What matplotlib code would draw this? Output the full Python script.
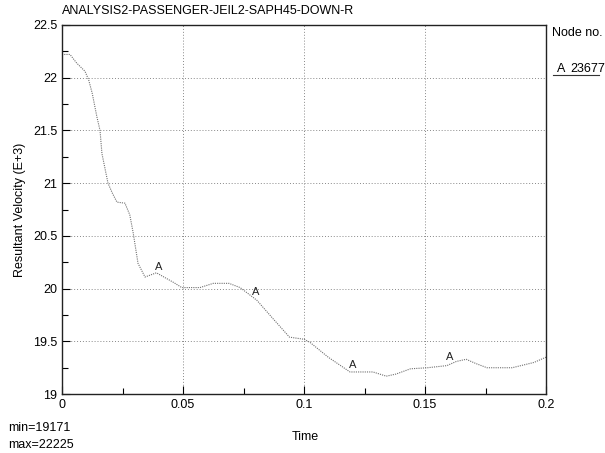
import matplotlib.pyplot as plt
import numpy as np

plt.rcParams['font.family'] = ['Liberation Sans Narrow', 'Liberation Sans', 'DejaVu Sans']

# time history (velocity in E+3)
t = [0.0, 0.0033, 0.006, 0.0095, 0.011, 0.0125, 0.0144, 0.0157, 0.0165, 0.019,
     0.0207, 0.0227, 0.026, 0.028, 0.0294, 0.0314, 0.0343, 0.039, 0.046, 0.0495,
     0.057, 0.0625, 0.069, 0.0736, 0.0805, 0.087, 0.094, 0.1, 0.1025, 0.11,
     0.119, 0.1285, 0.134, 0.138, 0.144, 0.151, 0.159, 0.163, 0.167, 0.171,
     0.1756, 0.186, 0.195, 0.2]
vel = [22.22, 22.22, 22.14, 22.06, 21.98, 21.85, 21.63, 21.5, 21.28, 21.0,
       20.91, 20.82, 20.81, 20.70, 20.53, 20.24, 20.11, 20.15, 20.06, 20.01,
       20.01, 20.05, 20.05, 20.01, 19.89, 19.72, 19.54, 19.52, 19.49, 19.35,
       19.21, 19.21, 19.17, 19.19, 19.24, 19.25, 19.27, 19.31, 19.33, 19.29,
       19.25, 19.25, 19.30, 19.35]
marker_t = [0.04, 0.08, 0.12, 0.16]

title = "ANALYSIS2-PASSENGER-JEIL2-SAPH45-DOWN-R"
node = "23677"

fig = plt.figure(figsize=(6.05, 4.53), dpi=100)
ax = fig.add_axes([0.1025, 0.130, 0.80, 0.815])

ax.plot(t, vel, color='#707070', lw=0.8, ls=(0, (1, 1)))
for mt in marker_t:
    mv = np.interp(mt, t, vel)
    ax.text(mt, mv + 0.02, "A", fontsize=8, ha='center', va='bottom', color='#222222')

ax.set_xlim(0, 0.2)
ax.set_ylim(19, 22.5)
ax.set_xticks([0, 0.05, 0.1, 0.15, 0.2])
ax.set_xticklabels(['0', '0.05', '0.1', '0.15', '0.2'])
ax.set_yticks([19, 19.5, 20, 20.5, 21, 21.5, 22, 22.5])
ax.set_yticklabels(['19', '19.5', '20', '20.5', '21', '21.5', '22', '22.5'])
ax.set_xticks([0.025, 0.075, 0.125, 0.175], minor=True)
ax.set_yticks(np.arange(19.25, 22.5, 0.5), minor=True)
ax.tick_params(direction='in', labelsize=9, length=6, width=0.8)
ax.tick_params(which='minor', direction='in', length=4, width=0.8)
ax.grid(True, color='#888888', ls=(0, (1, 2)), lw=0.7)
for s in ax.spines.values():
    s.set_linewidth(1.0)
    s.set_color('#222222')

ax.set_ylabel("Resultant Velocity (E+3)", fontsize=9, labelpad=5)
fig.text(0.1025, 0.975, title, fontsize=9, ha='left', va='center')
fig.text(0.505, 0.035, "Time", fontsize=9, ha='center', va='center')
fig.text(0.013, 0.055, "min=19171", fontsize=9, ha='left', va='center')
fig.text(0.013, 0.018, "max=22225", fontsize=9, ha='left', va='center')
fig.text(0.913, 0.927, "Node no.", fontsize=9, ha='left', va='center')
fig.text(0.920, 0.848, "A", fontsize=9, ha='left', va='center')
fig.text(0.943, 0.848, node, fontsize=9, ha='left', va='center')
fig.add_artist(plt.Line2D([0.914, 0.99], [0.835, 0.835], color='#333333', lw=0.8))

plt.savefig('out.png', dpi=100)
